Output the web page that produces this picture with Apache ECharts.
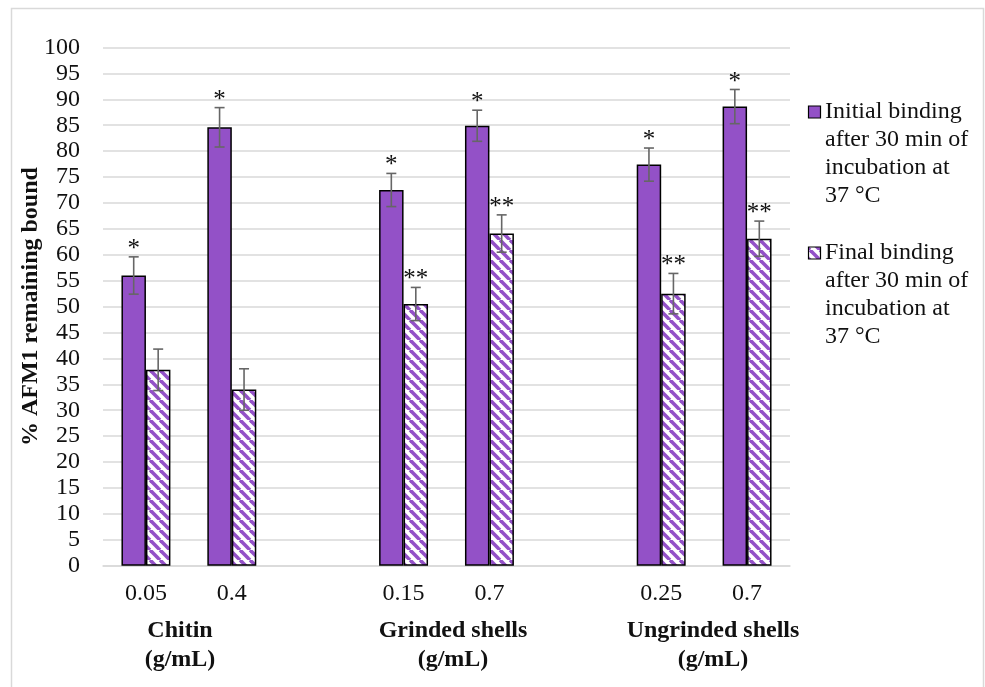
<!DOCTYPE html>
<html>
<head>
<meta charset="utf-8">
<script src="https://cdn.jsdelivr.net/npm/echarts@6/dist/echarts.min.js"></script>
<style>html,body{margin:0;padding:0;background:#fff;}#c{width:985px;height:687px;}</style>
</head>
<body>
<div id="c"></div>
<script>
const categories = ['0.05', '0.4', '', '0.15', '0.7', '', '0.25', '0.7'];
const initialValues = [56.0, 84.6, null, 72.5, 84.9, null, 77.4, 88.6];
const initialErrors = [3.6, 3.8, null, 3.2, 3.0, null, 3.2, 3.3];
const initialMarks = ['*', '*', '', '*', '*', '', '*', '*'];
const finalValues = [37.8, 34.0, null, 50.5, 64.1, null, 52.5, 63.1];
const finalErrors = [4.0, 4.0, null, 3.2, 3.6, null, 3.9, 3.4];
const finalMarks = ['', '', '', '**', '**', '', '**', '**'];
const seriesNames = ['Initial binding\nafter 30 min of\nincubation at\n37 °C', 'Final binding\nafter 30 min of\nincubation at\n37 °C'];
const groupLabels = ['Chitin\n(g/mL)', 'Grinded shells\n(g/mL)', 'Ungrinded shells\n(g/mL)'];
const yTicks = {min: 0, max: 100, interval: 5};

const PURPLE = '#9351C7';
const FONT = '"Liberation Serif", "Times New Roman", serif';

// hatch pattern
const pc = document.createElement('canvas');
const P = 10;
pc.width = P; pc.height = P;
const g = pc.getContext('2d');
g.fillStyle = '#fff'; g.fillRect(0, 0, P, P);
g.strokeStyle = PURPLE; g.lineWidth = 3.6;
[-P, 0, P].forEach(function (o) {
  g.beginPath(); g.moveTo(o, 0); g.lineTo(o + P, P); g.stroke();
});
const hatch = {image: pc, repeat: 'repeat'};

const BAR_RATIO = 0.285;

function errData(vals, errs, marks) {
  return vals.map(function (v, i) { return v == null ? null : [i, v, errs[i], marks[i]]; }).filter(Boolean);
}
function errSeries(vals, errs, marks, side) {
  return {
    type: 'custom',
    data: errData(vals, errs, marks),
    z: 5,
    silent: true,
    renderItem: function (params, api) {
      const i = api.value(0), v = api.value(1), e = api.value(2);
      const mark = marks[i];
      const band = api.size([1, 0])[0];
      const dx = side * band * BAR_RATIO / 2;
      const top = api.coord([i, v + e]);
      const bot = api.coord([i, v - e]);
      const x = top[0] + dx;
      const cap = 5;
      const st = {stroke: '#666', lineWidth: 1.6};
      const children = [
        {type: 'line', shape: {x1: x, y1: top[1], x2: x, y2: bot[1]}, style: st},
        {type: 'line', shape: {x1: x - cap, y1: top[1], x2: x + cap, y2: top[1]}, style: st},
        {type: 'line', shape: {x1: x - cap, y1: bot[1], x2: x + cap, y2: bot[1]}, style: st}
      ];
      if (mark) {
        children.push({type: 'text', style: {text: mark, x: x, y: top[1] + 5, align: 'center', verticalAlign: 'bottom', font: '25px ' + FONT, fill: '#111'}});
      }
      return {type: 'group', children: children};
    }
  };
}

function legendItem(y, fill, text) {
  return {
    type: 'group', silent: true,
    children: [
      {type: 'rect', shape: {x: 808.5, y: y - 6, width: 12, height: 12}, style: {fill: fill, stroke: '#000', lineWidth: 1.2}},
      {type: 'text', style: {text: text, x: 825, y: y - 14, align: 'left', verticalAlign: 'top', lineHeight: 28, font: '24px ' + FONT, fill: '#111'}}
    ]
  };
}

const chart = echarts.init(document.getElementById('c'), null, {renderer: 'canvas'});
chart.setOption({
  animation: false,
  backgroundColor: '#fff',
  grid: {left: 103, right: 195, top: 47.5, bottom: 121.3, containLabel: false},
  legend: {show: false, data: seriesNames},
  xAxis: {
    type: 'category',
    data: categories,
    axisTick: {show: false},
    axisLine: {show: true, lineStyle: {color: '#d9d9d9', width: 1.5}},
    axisLabel: {fontFamily: FONT, fontSize: 24, color: '#111', margin: 16, interval: 0}
  },
  yAxis: {
    type: 'value',
    min: yTicks.min, max: yTicks.max, interval: yTicks.interval,
    name: '% AFM1 remaining bound',
    nameLocation: 'middle',
    nameGap: 60,
    nameMoveOverlap: false,
    nameTextStyle: {fontFamily: FONT, fontSize: 24, fontWeight: 'bold', color: '#111'},
    axisLine: {show: false},
    axisTick: {show: false},
    axisLabel: {fontFamily: FONT, fontSize: 24, color: '#111', margin: 23},
    splitLine: {lineStyle: {color: '#d9d9d9', width: 1.5}}
  },
  series: [
    {name: seriesNames[0], type: 'bar', data: initialValues, barWidth: (BAR_RATIO * 100) + '%', barGap: '0%',
     itemStyle: {color: PURPLE, borderColor: '#000', borderWidth: 1.5}},
    {name: seriesNames[1], type: 'bar', data: finalValues, barWidth: (BAR_RATIO * 100) + '%', barGap: '0%',
     itemStyle: {color: hatch, borderColor: '#000', borderWidth: 1.5}},
    errSeries(initialValues, initialErrors, initialMarks, -1),
    errSeries(finalValues, finalErrors, finalMarks, 1)
  ],
  graphic: [
    {type: 'rect', shape: {x: 11.5, y: 8.5, width: 972, height: 720}, style: {fill: 'none', stroke: '#d9d9d9', lineWidth: 1.5}, silent: true, z: -1},
    legendItem(112, PURPLE, seriesNames[0]),
    legendItem(253, hatch, seriesNames[1]),
    {type: 'text', style: {text: groupLabels[0], x: 180, y: 645, align: 'center', verticalAlign: 'middle', lineHeight: 29, font: 'bold 24px ' + FONT, fill: '#111'}},
    {type: 'text', style: {text: groupLabels[1], x: 453, y: 645, align: 'center', verticalAlign: 'middle', lineHeight: 29, font: 'bold 24px ' + FONT, fill: '#111'}},
    {type: 'text', style: {text: groupLabels[2], x: 713, y: 645, align: 'center', verticalAlign: 'middle', lineHeight: 29, font: 'bold 24px ' + FONT, fill: '#111'}}
  ]
});
</script>
</body>
</html>
